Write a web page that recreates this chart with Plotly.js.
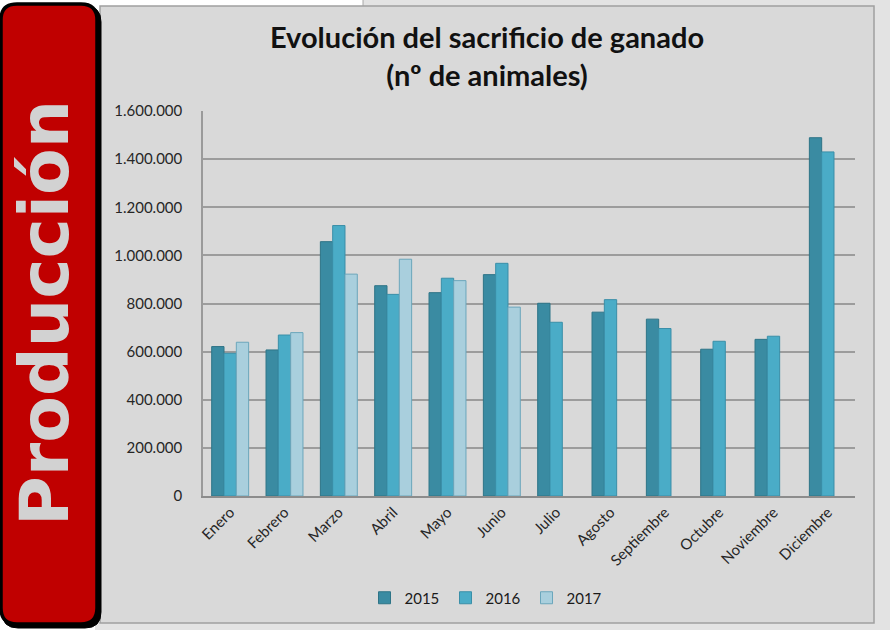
<!DOCTYPE html>
<html>
<head>
<meta charset="utf-8">
<script src="https://cdn.plot.ly/plotly-3.0.1.min.js"></script>
<style>
  html, body { margin: 0; padding: 0; background: #ffffff; }
  #chart { width: 890px; height: 630px; }
</style>
</head>
<body>
<div id="chart"></div>
<script>
// meses y series (nº de animales)
var meses = ['Enero', 'Febrero', 'Marzo', 'Abril', 'Mayo', 'Junio', 'Julio',
             'Agosto', 'Septiembre', 'Octubre', 'Noviembre', 'Diciembre'];
var valores2015 = [621000, 607000, 1057000, 874000, 845000, 920000, 801000,
                   764000, 735000, 610000, 651000, 1489000];
var valores2016 = [593000, 669000, 1124000, 838000, 905000, 967000, 722000,
                   816000, 696000, 643000, 664000, 1430000];
var valores2017 = [639000, 679000, 922000, 984000, 895000, 785000];
var yTicks = [0, 200000, 400000, 600000, 800000, 1000000, 1200000, 1400000, 1600000];

// plot area in pixels: left 203, right 855, top 111, bottom 496
var L = 203, R = 855, T = 111, B = 496;
function px(x) { return (x - L) / (R - L); }
function py(y) { return (B - y) / (B - T); }

function roundRect(x0, y0, x1, y1, r) {
    return 'M' + px(x0 + r) + ',' + py(y0) +
        ' L' + px(x1 - r) + ',' + py(y0) +
        ' Q' + px(x1) + ',' + py(y0) + ' ' + px(x1) + ',' + py(y0 + r) +
        ' L' + px(x1) + ',' + py(y1 - r) +
        ' Q' + px(x1) + ',' + py(y1) + ' ' + px(x1 - r) + ',' + py(y1) +
        ' L' + px(x0 + r) + ',' + py(y1) +
        ' Q' + px(x0) + ',' + py(y1) + ' ' + px(x0) + ',' + py(y1 - r) +
        ' L' + px(x0) + ',' + py(y0 + r) +
        ' Q' + px(x0) + ',' + py(y0) + ' ' + px(x0 + r) + ',' + py(y0) + ' Z';
}

var trace1 = {
    name: '2015',
    x: meses,
    y: valores2015,
    type: 'bar',
    marker: {color: '#3a8ba2', line: {color: '#2e7487', width: 1}}
};

var trace2 = {
    name: '2016',
    x: meses,
    y: valores2016,
    type: 'bar',
    marker: {color: '#4aacc7', line: {color: '#3a8fa8', width: 1}}
};

var trace3 = {
    name: '2017',
    x: meses.slice(0, valores2017.length),
    y: valores2017,
    type: 'bar',
    marker: {color: '#a9cfdd', line: {color: '#6ba6bb', width: 1}}
};

var fontFam = 'Lato, "Open Sans", sans-serif';

var layout = {
    width: 890,
    height: 630,
    margin: {l: L, r: 890 - R, t: T, b: 630 - B},
    paper_bgcolor: '#ffffff',
    plot_bgcolor: '#e8e8e8',
    separators: ',.',
    barmode: 'group',
    bargap: 0.32,
    bargroupgap: 0,
    font: {family: fontFam, size: 15, color: '#262626'},
    title: {
        text: '<b>Evolución del sacrificio de ganado<br>(nº de animales)</b>',
        font: {family: fontFam, size: 29, color: '#111111'},
        xref: 'container', x: 487 / 890, xanchor: 'center',
        yref: 'container', y: 1 - 48 / 630, yanchor: 'middle'
    },
    xaxis: {
        type: 'category',
        tickangle: -45,
        showline: true, linecolor: '#8c8c8c', linewidth: 1.5,
        showgrid: false, ticks: '',
        tickfont: {size: 15}
    },
    yaxis: {
        range: [0, 1600000],
        tickvals: yTicks,
        tickformat: ',d',
        showline: true, linecolor: '#9a9a9a', linewidth: 1.5,
        gridcolor: '#9c9c9c', gridwidth: 1.5,
        zeroline: false, ticks: '',
        ticklabelstandoff: 16,
        tickfont: {size: 15}
    },
    legend: {
        orientation: 'h',
        x: px(486), xanchor: 'center',
        y: py(598), yanchor: 'middle',
        font: {size: 15, color: '#1a1a1a'},
        itemwidth: 30,
        entrywidth: 36,
        bgcolor: 'rgba(0,0,0,0)'
    },
    shapes: [
        // fondo de paneles detras
        {type: 'rect', xref: 'paper', yref: 'paper', layer: 'below',
         x0: px(363), x1: px(900), y0: py(-10), y1: py(640),
         fillcolor: '#e3e3e3', line: {color: '#a8a8a8', width: 1}},
        {type: 'rect', xref: 'paper', yref: 'paper', layer: 'below',
         x0: px(95), x1: px(900), y0: py(623), y1: py(640),
         fillcolor: '#e3e3e3', line: {width: 0}},
        // panel del grafico
        {type: 'rect', xref: 'paper', yref: 'paper', layer: 'below',
         x0: px(100), x1: px(874), y0: py(6), y1: py(623),
         fillcolor: '#d9d9d9', line: {color: '#a0a0a0', width: 1.5}},
        // caja roja
        {type: 'path', xref: 'paper', yref: 'paper', layer: 'above',
         path: roundRect(2, 6, 101, 628, 16),
         fillcolor: '#000000', line: {color: '#000000', width: 1}},
        {type: 'path', xref: 'paper', yref: 'paper', layer: 'above',
         path: roundRect(1, 4, 97, 624, 16),
         fillcolor: '#c00000', line: {color: '#000000', width: 3.5}}
    ],
    annotations: [
        {text: '<b>Producción</b>', xref: 'paper', yref: 'paper',
         x: px(44), y: py(313), xanchor: 'center', yanchor: 'middle',
         textangle: -90, showarrow: false,
         font: {family: '"DejaVu Sans", sans-serif', size: 68, color: '#d2d2d2'}}
    ]
};

var config = {displayModeBar: false, responsive: false};
var data = [trace1, trace2, trace3];

Plotly.newPlot('chart', data, layout, config);
</script>
</body>
</html>
